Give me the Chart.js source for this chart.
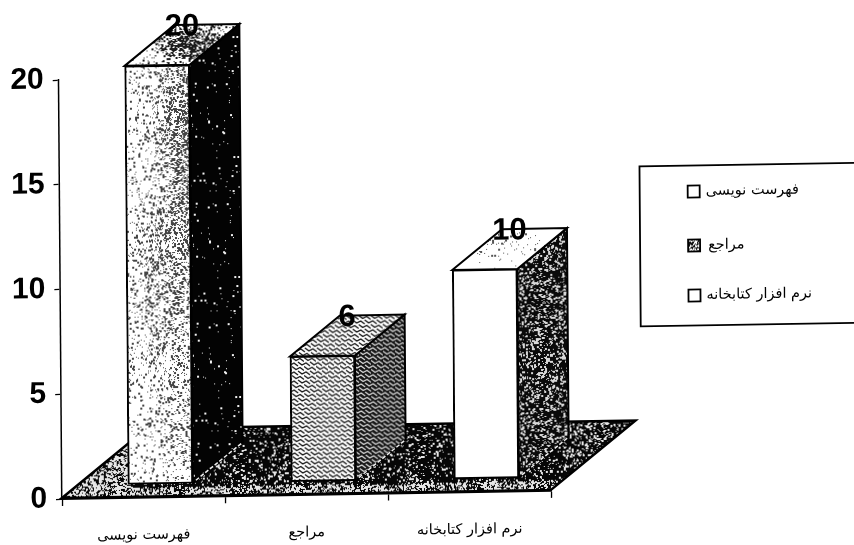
<!DOCTYPE html>
<html lang="fa">
<head>
<meta charset="utf-8">
<title>Chart</title>
<script src="https://cdn.jsdelivr.net/npm/chart.js@4"></script>
<style>
    html, body { margin: 0; padding: 0; background: #fff; }
    canvas { display: block; }
</style>
</head>
<body>
<canvas id="chart" width="854" height="545"></canvas>
<script>
// ===== Data =====
const categories = ["فهرست نویسی", "مراجع", "نرم افزار کتابخانه"];
const values = [20, 6, 10];
const yMin = 0;
const yMax = 20;
const yStep = 5;

// ===== Scanned page look: the page sits slightly crooked =====
const SHEAR_X = 0.0078;
const SHEAR_Y = 0.0165;
const BAR_SHIFT_X = 17;
const BAR_SHIFT_Y = -13;
const BAR_DEPTH_X = 50;
const BAR_DEPTH_Y = -40;
const FLOOR_DEPTH_X = 85;
const FLOOR_DEPTH_Y = -68;

const W = 854;
const H = 545;
const canvas = document.getElementById("chart");
const mainCtx = canvas.getContext("2d");

// ===== Textures =====
function makeRandom(seed) {
    let s = seed;
    return function() {
        s = (s + 0x6D2B79F5) | 0;
        let t = Math.imul(s ^ (s >>> 15), 1 | s);
        t = (t + Math.imul(t ^ (t >>> 7), 61 | t)) ^ t;
        return ((t ^ (t >>> 14)) >>> 0) / 4294967296;
    };
}

function speckle(seed, w, h, paper, ink, density) {
    const c = document.createElement("canvas");
    c.width = w;
    c.height = h;
    const g = c.getContext("2d");
    const rnd = makeRandom(seed);
    g.fillStyle = paper;
    g.fillRect(0, 0, w, h);
    g.fillStyle = ink;
    for (let y = 0; y < h; y++) {
        for (let x = 0; x < w; x++) {
            if (rnd() < density(x, y)) {
                const size = rnd() < 0.35 ? 2 : 1;
                g.fillRect(x, y, size, size);
            }
        }
    }
    return mainCtx.createPattern(c, "repeat");
}

function scallops(paper, ink, lineWidth) {
    const c = document.createElement("canvas");
    c.width = 12;
    c.height = 9;
    const g = c.getContext("2d");
    g.fillStyle = paper;
    g.fillRect(0, 0, 12, 9);
    g.strokeStyle = ink;
    g.lineWidth = lineWidth;
    [[0, 0], [12, 0], [6, 4.5], [0, 9], [12, 9], [6, -4.5]].forEach(function(p) {
        g.beginPath();
        g.moveTo(p[0] - 6, p[1] + 1);
        g.lineTo(p[0] - 2, p[1] + 4);
        g.lineTo(p[0] + 2, p[1] + 2);
        g.lineTo(p[0] + 6, p[1] + 5);
        g.stroke();
    });
    return mainCtx.createPattern(c, "repeat");
}

function blob(x, y, cx, cy, rx, ry) {
    const dx = (x - cx) / rx;
    const dy = (y - cy) / ry;
    return Math.exp(-(dx * dx + dy * dy));
}

const frontFills = [
    speckle(11, W, H, "#ffffff", "#444444", function(x, y) {
        return 0.05 + 0.28 * blob(x, y, 170, 150, 24, 100) + 0.14 * blob(x, y, 150, 300, 30, 80) + 0.09 * blob(x, y, 170, 440, 25, 40);
    }),
    scallops("#ffffff", "#111111", 1.3),
    "#ffffff"
];
const sideFills = [
    speckle(23, 120, 120, "#030303", "#f2f2f2", function() { return 0.012; }),
    scallops("#161616", "#dddddd", 1.2),
    speckle(37, 140, 140, "#0a0a0a", "#d8d8d8", function() { return 0.16; })
];
const topFills = [
    speckle(41, W, H, "#ffffff", "#1c1c1c", function(x, y) {
        return 0.04 + 0.5 * blob(x, y, 195, 45, 30, 16);
    }),
    scallops("#ffffff", "#111111", 1.3),
    speckle(53, W, H, "#ffffff", "#555555", function(x, y) {
        return 0.07 * blob(x, y, 505, 252, 30, 12);
    })
];
const floorFill = speckle(67, W, H, "#060606", "#e6e6e6", function(x, y) {
    if (y > 488) return 0.36;
    if (x < 132) return 0.4;
    return 0.09 + 0.1 * blob(x, y, 600, 450, 50, 25);
});
const legendSwatch = speckle(71, 20, 20, "#ffffff", "#111111", function() { return 0.4; });

// ===== Drawing helpers =====
function facePath(ctx, pts, fill) {
    ctx.beginPath();
    pts.forEach(function(p, i) {
        if (i === 0) ctx.moveTo(p[0], p[1]);
        else ctx.lineTo(p[0], p[1]);
    });
    ctx.closePath();
    ctx.fillStyle = fill;
    ctx.fill();
    ctx.stroke();
}

function drawFloor(chart) {
    const ctx = chart.ctx;
    const left = chart.scales.x.left;
    const right = chart.scales.x.right;
    const y0 = chart.scales.y.getPixelForValue(0) - 1;
    ctx.save();
    ctx.strokeStyle = "#000";
    ctx.lineWidth = 2.5;
    facePath(ctx, [
        [left, y0],
        [right, y0],
        [right + FLOOR_DEPTH_X, y0 + FLOOR_DEPTH_Y],
        [left + FLOOR_DEPTH_X, y0 + FLOOR_DEPTH_Y]
    ], floorFill);
    ctx.restore();
}

function drawBarFaces(ctx, bar, index) {
    const half = bar.width / 2;
    const l = bar.x - half + BAR_SHIFT_X;
    const r = bar.x + half + BAR_SHIFT_X;
    const top = bar.y + BAR_SHIFT_Y;
    const bottom = bar.base + BAR_SHIFT_Y;

    ctx.strokeStyle = "#000";
    ctx.lineWidth = 2;
    facePath(ctx, [
        [r, top],
        [r + BAR_DEPTH_X, top + BAR_DEPTH_Y],
        [r + BAR_DEPTH_X, bottom + BAR_DEPTH_Y],
        [r, bottom]
    ], sideFills[index]);
    facePath(ctx, [
        [l, top],
        [l + BAR_DEPTH_X, top + BAR_DEPTH_Y],
        [r + BAR_DEPTH_X, top + BAR_DEPTH_Y],
        [r, top]
    ], topFills[index]);

    // pale edge where the side meets the floor
    ctx.save();
    ctx.strokeStyle = "#eeeeee";
    ctx.lineWidth = 1.5;
    ctx.setLineDash([4, 2]);
    ctx.beginPath();
    ctx.moveTo(r + 3, bottom - 3);
    ctx.lineTo(r + BAR_DEPTH_X, bottom + BAR_DEPTH_Y);
    ctx.stroke();
    ctx.restore();
}

function drawValueLabels(ctx, bars) {
    ctx.save();
    ctx.fillStyle = "#000";
    ctx.font = "bold 31px 'Liberation Sans'";
    ctx.textAlign = "center";
    ctx.textBaseline = "middle";
    bars.forEach(function(bar, i) {
        ctx.fillText(String(values[i]), bar.x + BAR_SHIFT_X + 25, bar.y + BAR_SHIFT_Y + BAR_DEPTH_Y + 2);
    });
    ctx.restore();
}

function drawLegend(ctx) {
    const rowY = [202, 256, 306];
    ctx.save();
    ctx.strokeStyle = "#000";
    ctx.lineWidth = 1.8;
    ctx.fillStyle = "#fff";
    ctx.fillRect(642, 176, 240, 160);
    ctx.strokeRect(642, 176, 240, 160);
    ctx.font = "14.5px 'DejaVu Sans'";
    ctx.textBaseline = "middle";
    ctx.textAlign = "left";
    categories.forEach(function(name, i) {
        ctx.fillStyle = i === 1 ? legendSwatch : "#fff";
        ctx.fillRect(690, rowY[i] - 6, 12, 12);
        ctx.strokeRect(690, rowY[i] - 6, 12, 12);
        ctx.fillStyle = "#000";
        ctx.fillText(name, i === 1 ? 710 : 708, rowY[i]);
    });
    ctx.restore();
}

// ===== 3D bar plugin =====
const bar3dPlugin = {
    id: "bar3d",
    beforeDraw: function(chart) {
        const ctx = chart.ctx;
        ctx.save();
        ctx.transform(1, -SHEAR_Y, SHEAR_X, 1, -SHEAR_X * chart.scales.y.bottom, SHEAR_Y * 59);
    },
    beforeDatasetDraw: function(chart) {
        const ctx = chart.ctx;
        const bars = chart.getDatasetMeta(0).data;
        drawFloor(chart);
        bars.forEach(function(bar, i) {
            drawBarFaces(ctx, bar, i);
            ctx.save();
            ctx.translate(BAR_SHIFT_X, BAR_SHIFT_Y);
            bar.draw(ctx);
            ctx.restore();
        });
        drawValueLabels(ctx, bars);
        return false;
    },
    afterDraw: function(chart) {
        drawLegend(chart.ctx);
        chart.ctx.restore();
    }
};

// ===== Chart =====
new Chart(mainCtx, {
    type: "bar",
    data: {
        labels: categories,
        datasets: [{
            data: values,
            backgroundColor: frontFills,
            borderColor: "#000",
            borderWidth: 2,
            borderSkipped: false,
            barThickness: 65
        }]
    },
    options: {
        responsive: false,
        animation: false,
        layout: { padding: { top: 80, right: 303, left: 0, bottom: 0 } },
        plugins: {
            legend: { display: false },
            tooltip: { enabled: false }
        },
        scales: {
            x: {
                afterFit: function(scale) { scale.height = 46; },
                border: { color: "#000", width: 2 },
                grid: { drawOnChartArea: false, color: "#000", tickLength: 7, tickWidth: 1.3, tickColor: "#000" },
                ticks: {
                    color: "#000",
                    padding: 22,
                    maxRotation: 0,
                    font: { family: "'DejaVu Sans'", size: 14.5 }
                }
            },
            y: {
                min: yMin,
                max: yMax,
                afterFit: function(scale) { scale.width = 62; },
                border: { color: "#000", width: 1.5 },
                grid: { drawOnChartArea: false, tickLength: 6, tickWidth: 1.3, tickColor: "#000" },
                ticks: {
                    stepSize: yStep,
                    color: "#000",
                    padding: 9,
                    font: { family: "'Liberation Sans'", size: 30, weight: "bold" }
                }
            }
        }
    },
    plugins: [bar3dPlugin]
});
</script>
</body>
</html>
